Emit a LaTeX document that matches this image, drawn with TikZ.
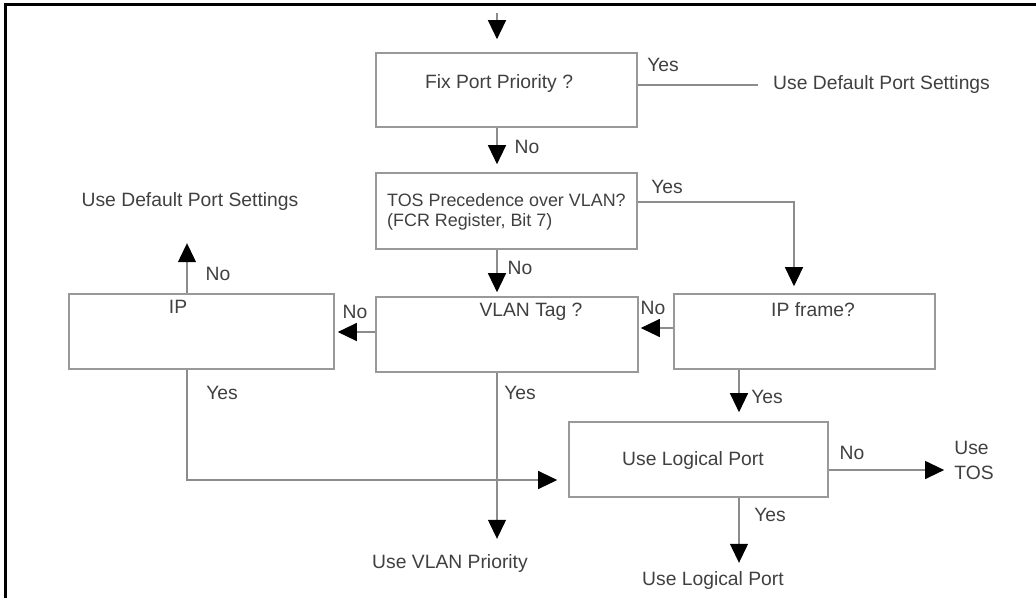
\documentclass[tikz,border=0pt]{standalone}
\usepackage{fontspec}
\setmainfont{Liberation Sans}
\usetikzlibrary{arrows.meta}
\usetikzlibrary{calc}

\begin{document}
\begin{tikzpicture}[x=1pt, y=-1pt,
    box/.style={draw=black!40, line width=1.6pt, inner sep=0pt},
    link/.style={draw=black!45, line width=1.2pt},
    flow/.style={link, -{Triangle[length=19pt, width=18pt, color=black]}},
    lbl/.style={text=black!75, font=\fontsize{19.3}{22}\selectfont, inner sep=2pt}]
  \useasboundingbox (0,0) rectangle (1036,598);
  \draw[line width=3pt] (5.5,598) -- (5.5,4.5) -- (1036,4.5);
  % boxes
  \foreach \n/\x/\y/\w/\h in {fix/506.5/90/261pt/74pt, tos/506.5/211/261pt/76pt,
      ip/201.5/331.5/265pt/75pt, vlan/507/334.5/262pt/75pt,
      ipframe/804.5/331.5/261pt/75pt, logic/698.5/459.5/259pt/75pt} {
    \node[box, minimum width=\w, minimum height=\h] (\n) at (\x,\y) {};
  }
  % texts
  \node[lbl] (fixtxt) at (499,84) {Fix Port Priority ?};
  \node[lbl, font=\fontsize{17.9}{20}\selectfont, align=left, anchor=west] (tostxt) at (385,212)
    {TOS Precedence over VLAN?\\(FCR Register, Bit 7)};
  \node[lbl] (iptxt) at (178,307) {IP};
  \node[lbl] (vlantxt) at (531,312) {VLAN Tag ?};
  \node[lbl] (ipftxt) at (813,310) {IP frame?};
  \node[lbl] (logictxt) at (693,460) {Use Logical Port};
  \node[lbl, anchor=west] (dflt1) at (771,85) {Use Default Port Settings};
  \node[lbl] (dflt2) at (190,202) {Use Default Port Settings};
  \node[lbl] (vlanprio) at (450,563) {Use VLAN Priority};
  \node[lbl] (uselogic) at (713,580) {Use Logical Port};
  \node[lbl, align=left] (usetos) at (974,460) {Use\\[3pt]TOS};
  \foreach \t/\x/\y [count=\i] in {Yes/663/65, No/527/147, Yes/667/187, No/520/268,
      No/218/274, No/653/308, No/355/312, Yes/222/393, Yes/520/393, Yes/767/397,
      No/852/453, Yes/770/515} {
    \node[lbl] (ans\i) at (\x,\y) {\t};
  }
  % connectors
  \coordinate (start) at (497,13);
  \draw[flow, shorten >=13pt] (start) -- (fix.north -| start);
  \draw[link] (dflt1.west -| fix.east) -- ([xshift=-13pt]dflt1.west);
  \draw[flow, shorten >=8pt] (fix.south -| start) -- (tos.north -| start);
  \draw[flow, shorten >=7pt] ([yshift=9pt]tos.east) -| ([xshift=-10.5pt]ipframe.north);
  \draw[flow, shorten >=4pt] (tos.south -| start) -- (vlan.north -| start);
  \draw[flow, shorten >=2pt] ([yshift=3.5pt]ipframe.west) -- ([yshift=3.5pt]ipframe.west -| vlan.east);
  \draw[flow, shorten >=3pt] ([yshift=2.5pt]vlan.west) -- ([yshift=2.5pt]vlan.west -| ip.east);
  \draw[flow, shorten >=30pt] ([xshift=-14.5pt]ip.north) -- ([xshift=-14.5pt]ip.north |- dflt2.south);
  \draw[flow, shorten >=11pt] ([xshift=-14.5pt]ip.south) |- ([yshift=-20.5pt]logic.west);
  \draw[flow, shorten >=13pt] (vlan.south -| start) -- (vlanprio.north -| start);
  \draw[flow, shorten >=9pt] ([xshift=40.5pt]logic.north |- ipframe.south) -- ([xshift=40.5pt]logic.north);
  \draw[flow, shorten >=8pt] ([yshift=-10.5pt]logic.east) -- ([yshift=-10.5pt]logic.east -| usetos.west);
  \draw[flow, shorten >=6pt] ([xshift=40.5pt]logic.south) -- ([xshift=40.5pt]logic.south |- uselogic.north);
\end{tikzpicture}
\end{document}
